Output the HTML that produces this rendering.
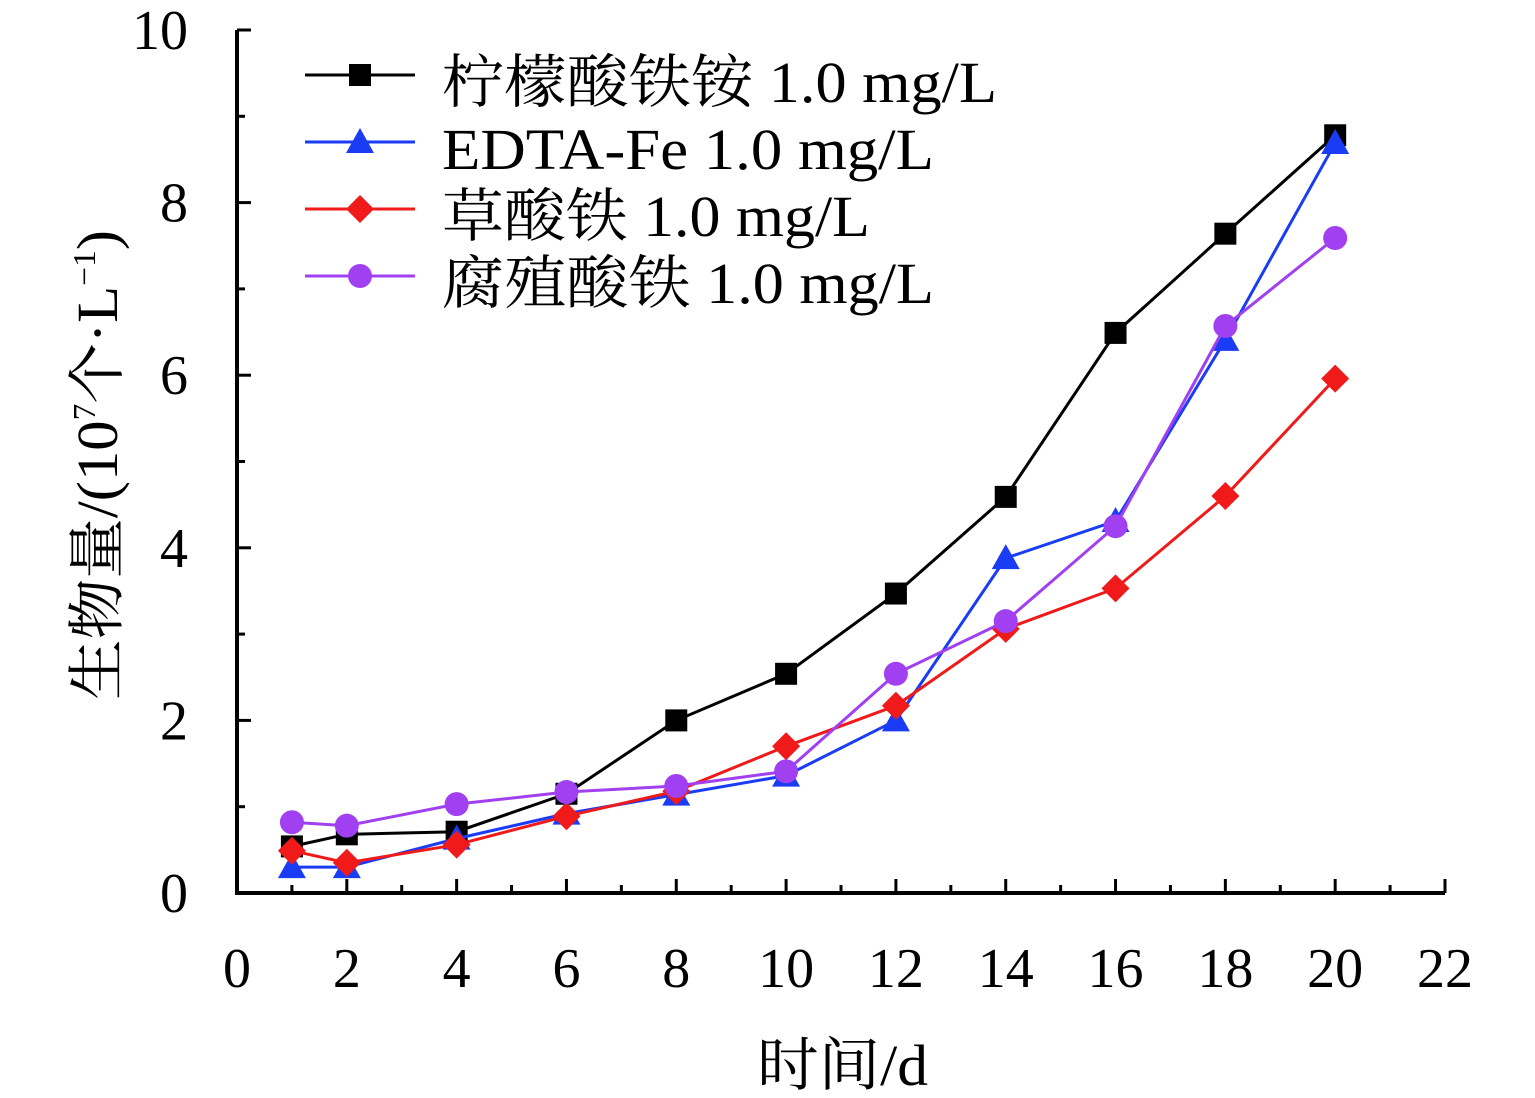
<!DOCTYPE html>
<html><head><meta charset="utf-8"><style>
html,body{margin:0;padding:0;background:#fff;}
svg{display:block;}
text{font-family:"Liberation Serif","Noto Serif CJK SC",serif;fill:#000;}
</style></head><body>
<svg id="chart" width="1535" height="1098" viewBox="0 0 1535 1098" xmlns="http://www.w3.org/2000/svg"></svg>
<script>
const categories=[1,2,4,6,8,10,12,14,16,18,20];
const seriesNames=["柠檬酸铁铵 1.0 mg/L","EDTA-Fe 1.0 mg/L","草酸铁 1.0 mg/L","腐殖酸铁 1.0 mg/L"];
const seriesCitrate=[0.54,0.68,0.71,1.15,2.0,2.54,3.47,4.59,6.49,7.64,8.78];
const seriesEdta=[0.3,0.3,0.63,0.92,1.14,1.36,2.0,3.88,4.31,6.41,8.69];
const seriesOxalate=[0.49,0.35,0.56,0.89,1.18,1.70,2.17,3.06,3.53,4.6,5.96];
const seriesHumic=[0.82,0.78,1.03,1.17,1.24,1.41,2.54,3.15,4.25,6.57,7.59];
const xTicks=[0,2,4,6,8,10,12,14,16,18,20,22];
const yTicks=[0,2,4,6,8,10];
const legendWidths=[555,492,428,492];
const colors=["#000000","#1a3cf5","#f01a1a","#a040f0"];
const markers=["square","triangle","diamond","circle"];
const NS="http://www.w3.org/2000/svg";
const svg=document.getElementById('chart');
const X0=237,X1=1445,Y0=893,Y1=30;
const xs=v=>X0+(v-0)/(22-0)*(X1-X0);
const ys=v=>Y0-(v-0)/(10-0)*(Y0-Y1);
function mk(tag,attrs,parent){const e=document.createElementNS(NS,tag);for(const k in attrs)e.setAttribute(k,attrs[k]);(parent||svg).appendChild(e);return e;}
const axes=mk('g',{});


mk('line',{x1:X0,y1:Y1,x2:X0,y2:Y0,stroke:'#000','stroke-width':4},axes);
mk('line',{x1:X0-2,y1:Y0,x2:X1,y2:Y0,stroke:'#000','stroke-width':4},axes);
for(let v=0;v<=22;v++){const maj=v%2===0;mk('line',{x1:xs(v),y1:Y0,x2:xs(v),y2:Y0-(maj?14:8),stroke:'#000','stroke-width':3},axes);}
for(let v=0;v<=10;v++){const maj=v%2===0;mk('line',{x1:X0,y1:ys(v),x2:X0+(maj?14:8),y2:ys(v),stroke:'#000','stroke-width':3},axes);}
xTicks.forEach(v=>{const t=mk('text',{x:xs(v),y:987,'text-anchor':'middle','font-size':56},axes);t.textContent=v;

});
yTicks.forEach(v=>{const t=mk('text',{x:188,y:ys(v)+19,'text-anchor':'end','font-size':56},axes);t.textContent=v;

});
const xt=mk('text',{x:757,y:1085,'font-size':58,textLength:171,lengthAdjust:'spacingAndGlyphs'});xt.textContent='时间/d';


const yt=mk('text',{transform:'translate(117,700) rotate(-90)','font-size':58,textLength:470,lengthAdjust:'spacingAndGlyphs'});
yt.innerHTML='生物量/(10<tspan font-size="32" dy="-22">7</tspan><tspan dy="22">个·L</tspan><tspan font-size="32" dy="-22">−1</tspan><tspan dy="22">)</tspan>';


function marker(g,type,x,y,c){
 if(type==='square')mk('rect',{x:x-11,y:y-11,width:22,height:22,fill:c},g);
 else if(type==='triangle')mk('polygon',{points:`${x},${y-14} ${x-14},${y+11} ${x+14},${y+11}`,fill:c},g);
 else if(type==='diamond')mk('polygon',{points:`${x},${y-14} ${x+14},${y} ${x},${y+14} ${x-14},${y}`,fill:c},g);
 else mk('circle',{cx:x,cy:y,r:12,fill:c},g);
}
const data=[seriesCitrate,seriesEdta,seriesOxalate,seriesHumic];
const snames=['series-citrate','series-edta','series-oxalate','series-humic'];
data.forEach((s,i)=>{
 const g=mk('g',{});
 
 
 mk('polyline',{points:s.map((v,j)=>xs(categories[j])+','+ys(v)).join(' '),fill:'none',stroke:colors[i],'stroke-width':3},g);
 s.forEach((v,j)=>marker(g,markers[i],xs(categories[j]),ys(v),colors[i]));
});
const lg=mk('g',{});


seriesNames.forEach((n,i)=>{
 const y=75+i*67;
 const e=mk('g',{},lg);
 
 
 mk('line',{x1:305,y1:y,x2:415,y2:y,stroke:colors[i],'stroke-width':3},e);
 marker(e,markers[i],360,y,colors[i]);
 const t=mk('text',{x:442,y:y+27,'font-size':58,textLength:legendWidths[i],lengthAdjust:'spacingAndGlyphs'},e);t.textContent=n;
});
</script>
</body></html>
